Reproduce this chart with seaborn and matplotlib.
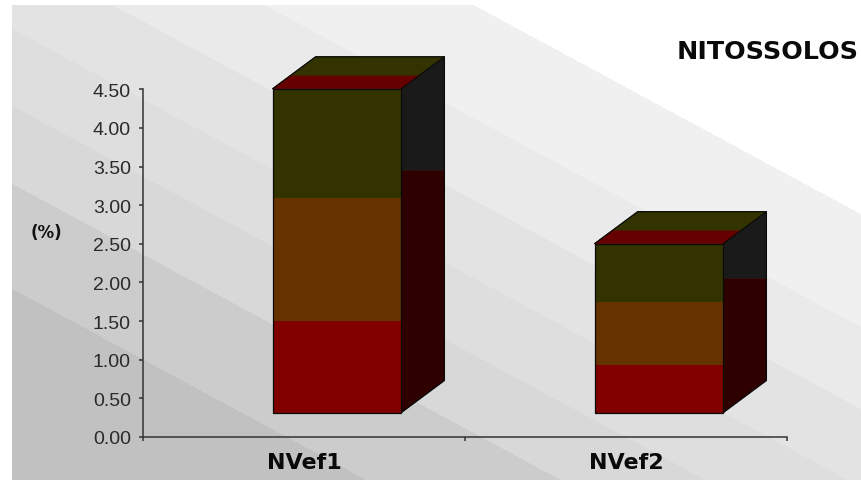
import numpy as np
import seaborn as sns
import matplotlib
matplotlib.use("Agg")
import matplotlib.pyplot as plt
from matplotlib.patches import Polygon
from matplotlib.transforms import Affine2D
from matplotlib.ticker import FormatStrFormatter

# Soil profile values, one segment per layer
categories = ["NVef1", "NVef2"]
layer_red = [1.19, 0.62]
layer_brown = [1.58, 0.815]
layer_olive = [1.42, 0.75]
side_split = [3.13, 1.73]
y_ticks = [0.0, 0.5, 1.0, 1.5, 2.0, 2.5, 3.0, 3.5, 4.0, 4.5]

# Diagonal backdrop bands
band_limits = [-250, -137, -55, 23, 100, 178, 283]
band_greys = [255, 240, 234, 228, 222, 216, 204, 193]

W, H = 861, 481
sns.set_theme(style="white")
plt.rcParams["font.family"] = ["Liberation Sans", "DejaVu Sans"]
fig = plt.figure(figsize=(W / 100, H / 100), dpi=100, facecolor="white")

# Backdrop
bg = fig.add_axes([0, 0, 1, 1], zorder=0)
yy, xx = np.mgrid[0:H, 0:W]
idx = np.digitize(yy - 0.54 * xx, band_limits)
img = np.array(band_greys)[idx].astype(float)
img[(xx < 12) | (yy < 6)] = 255
bg.imshow(img, cmap="gray", vmin=0, vmax=255, aspect="auto",
          extent=(0, W, H, 0), interpolation="nearest")
bg.axis("off")

ax = fig.add_axes([143 / W, (H - 438) / H, 644 / W, 347.7 / H], zorder=1)
ax.patch.set_alpha(0)

# Front faces, stacked layer by layer
bottoms = np.zeros(2)
for values, colour in zip([layer_red, layer_brown, layer_olive],
                          ["#800000", "#663300", "#333300"]):
    sns.barplot(x=categories, y=values, bottom=bottoms, width=0.4, color=colour,
                saturation=1, edgecolor="none", linewidth=0, ax=ax, errorbar=None)
    bottoms = bottoms + np.array(values)

ax.set_xlim(-0.5, 1.5)
ax.set_ylim(0, 4.5)

# Every bar sits forward of the floor, so shift all solids by the same offset
shift = Affine2D().translate(33, 24.5)
solid = ax.transData + shift
for p in ax.patches:
    p.set_transform(solid)
    p.set_clip_on(False)

depth_x = 43 / 322
depth_y = 32 / 77.3
half = 0.2
strip = 0.4


def face(points, colour, z=3):
    ax.add_patch(Polygon(points, closed=True, facecolor=colour, edgecolor=colour,
                         linewidth=0.4, transform=solid, clip_on=False, zorder=z))


for i, total in enumerate(bottoms):
    l, r = i - half, i + half
    split = side_split[i]
    # Right side: grey above the split, dark red below
    face([(r, split), (r + depth_x, split), (r + depth_x, total + depth_y),
          (r, total)], "#1a1a1a")
    face([(r, 0), (r + depth_x, depth_y), (r + depth_x, split), (r, split)], "#2e0000")
    # Top: olive at the back, red strip at the front
    face([(l, total), (r, total), (r + depth_x, total + depth_y),
          (l + depth_x, total + depth_y)], "#333300")
    face([(l, total), (r, total), (r + strip * depth_x, total + strip * depth_y),
          (l + strip * depth_x, total + strip * depth_y)], "#660000")
    # Outlines of the box
    outline = [
        [(l, 0), (r, 0), (r, total), (l, total), (l, 0)],
        [(l, total), (l + depth_x, total + depth_y), (r + depth_x, total + depth_y),
         (r + depth_x, depth_y), (r, 0)],
        [(r, total), (r + depth_x, total + depth_y)],
    ]
    for line in outline:
        xs, ys = zip(*line)
        ax.plot(xs, ys, color="#0a0a0a", lw=0.9, transform=solid, clip_on=False,
                zorder=4, solid_joinstyle="miter")

# Axes
sns.despine(ax=ax)
for side in ("left", "bottom"):
    ax.spines[side].set_color("#333333")
    ax.spines[side].set_linewidth(1.1)
ax.set_yticks(y_ticks)
ax.yaxis.set_major_formatter(FormatStrFormatter("%.2f"))
ax.tick_params(axis="y", left=True, direction="out", length=3.2, width=1.1,
               color="#333333", pad=5.5, labelsize=14, labelcolor="#2a2a2a")
ax.set_xticks([0, 1], categories, fontweight="bold", family="DejaVu Sans")
ax.set_xticks([-0.5, 0.5, 1.5], minor=True)
ax.tick_params(axis="x", which="major", bottom=False, length=0, pad=11,
               labelsize=16, labelcolor="#0a0a0a")
ax.tick_params(axis="x", which="minor", bottom=True, direction="out", length=3.2,
               width=1.1, color="#333333")

fig.text(46 / W, 1 - 233 / H, "(%)", ha="center", va="center", fontsize=12,
         fontweight="bold", family="DejaVu Sans", color="#111111")
fig.text(767.5 / W, 1 - 52 / H, "NITOSSOLOS", ha="center", va="center", fontsize=18.3,
         fontweight="bold", family="DejaVu Sans", color="#0a0a0a")

fig.savefig("out.png", dpi=100)
